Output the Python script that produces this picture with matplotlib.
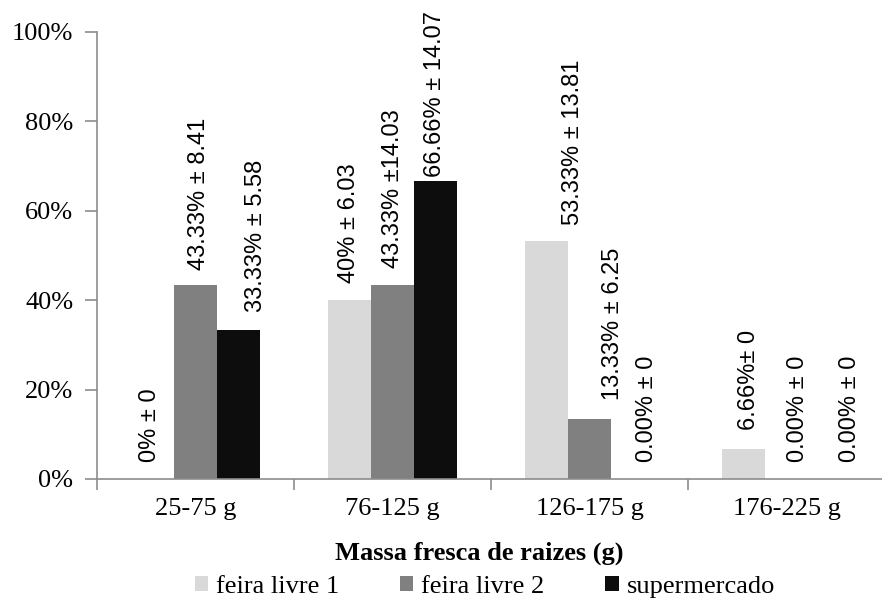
import numpy as np
import matplotlib
matplotlib.use("Agg")
import matplotlib.pyplot as plt
from matplotlib.ticker import FuncFormatter, FixedLocator

categories = ["25-75 g", "76-125 g", "126-175 g", "176-225 g"]
series_names = ["feira livre 1", "feira livre 2", "supermercado"]

feira1 = [0.0, 40.0, 53.33, 6.66]
feira2 = [43.33, 43.33, 13.33, 0.0]
supermercado = [33.33, 66.66, 0.0, 0.0]

feira1_labels = ["0% \u00b1 0", "40% \u00b1 6.03", "53.33% \u00b1 13.81", "6.66%\u00b1 0"]
feira2_labels = ["43.33% \u00b1 8.41", "43.33% \u00b114.03", "13.33% \u00b1 6.25", "0.00% \u00b1 0"]
super_labels = ["33.33% \u00b1 5.58", "66.66% \u00b1 14.07", "0.00% \u00b1 0", "0.00% \u00b1 0"]

colors = ["#d9d9d9", "#808080", "#0d0d0d"]
axis_gray = "#8c8c8c"

# label nudges in pixels (dx per bar, dy above bar top)
label_dx = [[-3, -1, 26, 5], [3, 0, 23, 11], [18, 0, 15, 21]]
label_dy = [[17, 17, 16, 19], [15, 17, 19, 17], [18, 4, 17, 17]]

fig = plt.figure(figsize=(8.82, 6.06), dpi=100)
ax = fig.add_axes([0.110, 0.2096, 0.8934, 0.7376])

x = np.arange(len(categories))
width = 0.218
values = [feira1, feira2, supermercado]
labels = [feira1_labels, feira2_labels, super_labels]

for i, (vals, name, col) in enumerate(zip(values, series_names, colors)):
    pos = x + (i - 1) * width
    ax.bar(pos, vals, width=width, color=col, label=name, linewidth=0)
    for j, (p, v) in enumerate(zip(pos, vals)):
        ax.annotate(labels[i][j], xy=(p, v), xytext=(label_dx[i][j], label_dy[i][j]),
                    textcoords="offset pixels", rotation=90, ha="center", va="bottom",
                    fontsize=17, family="Liberation Sans", color="#000000")

ax.set_xlim(-0.5, 3.5)
ax.set_ylim(0, 100)
ax.set_yticks([0, 20, 40, 60, 80, 100])
ax.yaxis.set_major_formatter(FuncFormatter(lambda v, p: f"{v:.0f}%"))

ax.xaxis.set_major_locator(FixedLocator([-0.5, 0.5, 1.5, 2.5, 3.5]))
ax.xaxis.set_major_formatter(FuncFormatter(lambda v, p: ""))
ax.set_xticks(x, minor=True)
ax.set_xticklabels(categories, minor=True)

for side in ["top", "right"]:
    ax.spines[side].set_visible(False)
for side in ["left", "bottom"]:
    ax.spines[side].set_color(axis_gray)
    ax.spines[side].set_linewidth(1.2)

ax.tick_params(axis="y", which="major", length=9, color=axis_gray, width=1.2,
               pad=8, labelsize=19)
ax.tick_params(axis="x", which="major", length=8, color=axis_gray, width=1.2)
ax.tick_params(axis="x", which="minor", length=0, pad=14, labelsize=19)
for t in ax.get_yticklabels() + ax.get_xticklabels(minor=True):
    t.set_family("Liberation Serif")

ax.set_xlabel("Massa fresca de raizes (g)", family="Liberation Serif",
              fontsize=19, fontweight="bold", va="center")
ax.xaxis.set_label_coords((479 - 97) / 788, -(553 - 479) / 447)

fig.legend(loc="center", bbox_to_anchor=(485 / 882, 1 - 587 / 606), ncol=3,
           frameon=False, prop={"family": "Liberation Serif", "size": 19},
           handlelength=0.5, handleheight=0.5, handletextpad=0.3,
           columnspacing=2.3, borderpad=0, borderaxespad=0)

fig.savefig("out.png", dpi=100)
